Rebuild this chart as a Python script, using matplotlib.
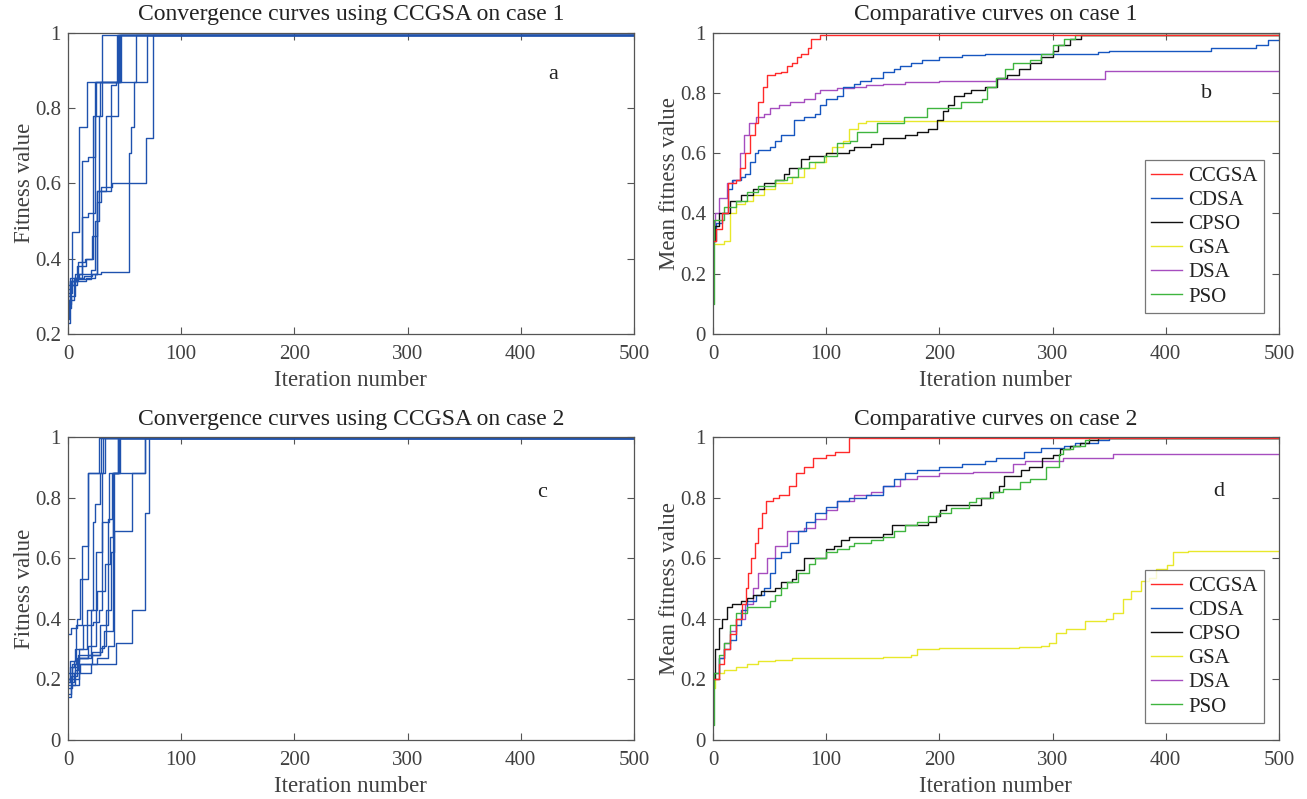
import numpy as np
import matplotlib
matplotlib.use("Agg")
from matplotlib import pyplot as plt

plt.rcParams['font.family'] = ['Liberation Serif', 'DejaVu Serif']
plt.rcParams['font.size'] = 15

N_ITER = 500

# case 1: individual CCGSA runs (iteration where value changes, new value)
a_runs = [
    ([0, 2, 4, 10, 17, 30], [0.29, 0.34, 0.47, 0.75, 0.87, 0.993]),
    ([0, 2, 6, 12, 18, 22, 25, 43], [0.30, 0.34, 0.36, 0.51, 0.52, 0.78, 0.87, 0.993]),
    ([0, 2, 5, 12, 18, 24, 28, 45], [0.23, 0.33, 0.35, 0.66, 0.67, 0.78, 0.87, 0.993]),
    ([0, 4, 8, 16, 21, 26, 38, 42, 47], [0.31, 0.34, 0.38, 0.40, 0.46, 0.58, 0.86, 0.87, 0.993]),
    ([0, 3, 7, 14, 21, 29, 54, 56, 58, 60], [0.32, 0.34, 0.35, 0.355, 0.36, 0.365, 0.68, 0.75, 0.87, 0.993]),
    ([0, 3, 8, 20, 26, 29, 39, 69, 75], [0.28, 0.33, 0.345, 0.36, 0.55, 0.59, 0.60, 0.72, 0.993]),
    ([0, 2, 10, 20, 24, 27, 30, 70], [0.33, 0.35, 0.36, 0.37, 0.50, 0.78, 0.87, 0.993]),
    ([0, 3, 6, 16, 24, 26, 34, 44], [0.27, 0.30, 0.34, 0.35, 0.36, 0.58, 0.78, 0.993]),
    ([0, 1, 5, 9, 15, 22, 24, 46], [0.24, 0.29, 0.34, 0.39, 0.40, 0.52, 0.87, 0.993]),
]

# case 2: individual CCGSA runs
c_runs = [
    ([0, 3, 8, 11, 18, 27], [0.35, 0.37, 0.40, 0.53, 0.88, 0.998]),
    ([0, 4, 7, 12, 18, 29], [0.20, 0.25, 0.38, 0.64, 0.88, 0.998]),
    ([0, 2, 6, 10, 17, 22, 24, 28, 31], [0.19, 0.22, 0.25, 0.30, 0.43, 0.72, 0.78, 0.88, 0.998]),
    ([0, 3, 6, 9, 18, 25, 30, 33], [0.15, 0.18, 0.23, 0.27, 0.31, 0.62, 0.88, 0.998]),
    ([0, 2, 5, 10, 18, 28, 35, 39, 45], [0.20, 0.24, 0.26, 0.27, 0.28, 0.38, 0.73, 0.88, 0.998]),
    ([0, 3, 8, 20, 26, 33, 37, 40, 44], [0.18, 0.21, 0.27, 0.43, 0.49, 0.58, 0.67, 0.88, 0.998]),
    ([0, 4, 10, 21, 30, 34, 38, 41, 46], [0.17, 0.20, 0.25, 0.29, 0.31, 0.43, 0.62, 0.88, 0.998]),
    ([0, 5, 11, 26, 35, 41, 57, 68], [0.19, 0.22, 0.25, 0.27, 0.31, 0.69, 0.88, 0.998]),
    ([0, 3, 10, 20, 42, 57, 68, 72], [0.14, 0.18, 0.22, 0.25, 0.32, 0.43, 0.75, 0.998]),
    ([0, 4, 9, 28, 32, 40, 68], [0.20, 0.24, 0.28, 0.305, 0.36, 0.88, 0.998]),
    ([0, 2, 6, 13, 22, 27, 30, 36, 44], [0.22, 0.26, 0.30, 0.38, 0.39, 0.43, 0.72, 0.88, 0.998]),
]

algos = ['CCGSA', 'CDSA', 'CPSO', 'GSA', 'DSA', 'PSO']
algo_colors = ['#FF2A2A', '#1656C0', '#111111', '#E8E82A', '#A64DBF', '#3FB53F']

# case 1 mean curves
b_x = {
    'CCGSA': [0, 3, 8, 13, 20, 24, 28, 33, 37, 40, 44, 48, 55, 60, 65, 70, 74, 78, 84, 87, 95],
    'CDSA': [0, 3, 8, 13, 17, 25, 28, 33, 37, 40, 50, 55, 60, 72, 80, 90, 95, 100, 110, 115, 125, 130,
             140, 150, 160, 165, 175, 185, 200, 220, 240, 340, 350, 440, 480, 490],
    'CPSO': [0, 2, 5, 15, 25, 35, 45, 55, 63, 67, 78, 85, 100, 120, 125, 140, 150, 170, 180, 190, 198,
             203, 208, 213, 222, 228, 240, 251, 260, 270, 280, 290, 300, 305, 315, 325],
    'GSA': [0, 1, 10, 15, 20, 28, 35, 45, 55, 70, 80, 90, 100, 105, 115, 120, 128, 135],
    'DSA': [0, 2, 5, 12, 18, 24, 27, 32, 38, 45, 50, 58, 68, 80, 90, 95, 110, 125, 135, 150, 170, 200,
            250, 346],
    'PSO': [0, 1, 10, 20, 30, 40, 55, 65, 75, 85, 98, 110, 121, 127, 145, 169, 189, 219, 238, 242, 250,
            258, 265, 280, 290, 300, 310, 320],
}
b_y = {
    'CCGSA': [0.31, 0.35, 0.40, 0.50, 0.51, 0.55, 0.60, 0.66, 0.70, 0.77, 0.82, 0.86, 0.865, 0.87, 0.89,
              0.90, 0.92, 0.93, 0.95, 0.98, 0.993],
    'CDSA': [0.31, 0.37, 0.40, 0.48, 0.51, 0.52, 0.53, 0.57, 0.60, 0.61, 0.62, 0.64, 0.66, 0.71, 0.72,
             0.73, 0.76, 0.78, 0.79, 0.82, 0.83, 0.84, 0.85, 0.87, 0.88, 0.89, 0.90, 0.91, 0.92, 0.925,
             0.93, 0.935, 0.94, 0.95, 0.96, 0.975],
    'CPSO': [0.31, 0.36, 0.40, 0.44, 0.46, 0.48, 0.50, 0.51, 0.53, 0.55, 0.58, 0.59, 0.60, 0.61, 0.62,
             0.63, 0.65, 0.66, 0.67, 0.68, 0.71, 0.74, 0.76, 0.79, 0.80, 0.81, 0.82, 0.85, 0.86, 0.88,
             0.90, 0.92, 0.94, 0.96, 0.98, 0.993],
    'GSA': [0.30, 0.30, 0.31, 0.40, 0.43, 0.44, 0.46, 0.48, 0.50, 0.52, 0.55, 0.57, 0.60, 0.62, 0.64,
            0.68, 0.70, 0.707],
    'DSA': [0.33, 0.40, 0.45, 0.50, 0.51, 0.60, 0.66, 0.70, 0.72, 0.73, 0.75, 0.76, 0.77, 0.78, 0.80,
            0.81, 0.815, 0.82, 0.825, 0.83, 0.835, 0.84, 0.847, 0.873],
    'PSO': [0.10, 0.38, 0.42, 0.44, 0.47, 0.49, 0.51, 0.52, 0.55, 0.57, 0.59, 0.635, 0.64, 0.67, 0.70,
            0.72, 0.75, 0.77, 0.78, 0.82, 0.85, 0.88, 0.90, 0.91, 0.93, 0.96, 0.98, 0.993],
}

# case 2 mean curves
d_x = {
    'CCGSA': [0, 5, 10, 15, 20, 26, 29, 31, 34, 37, 40, 43, 47, 53, 58, 67, 73, 80, 88, 100, 108, 120],
    'CDSA': [0, 5, 10, 15, 20, 25, 30, 38, 45, 50, 55, 60, 68, 75, 82, 90, 100, 110, 120, 135, 150, 160,
             170, 180, 200, 220, 240, 250, 275, 290, 310, 320, 340, 350],
    'CPSO': [0, 2, 5, 8, 12, 17, 25, 30, 35, 42, 55, 60, 70, 73, 80, 100, 107, 113, 120, 150, 158, 190,
             197, 201, 206, 237, 245, 253, 257, 272, 279, 291, 300, 307, 315, 324, 332, 340],
    'GSA': [0, 2, 5, 10, 20, 30, 40, 55, 70, 100, 150, 170, 175, 180, 200, 230, 270, 290, 297, 303, 312,
            329, 347, 353, 362, 369, 378, 385, 391, 401, 406, 420],
    'DSA': [0, 5, 10, 15, 20, 28, 35, 40, 48, 55, 65, 80, 90, 100, 110, 125, 140, 150, 165, 180, 200,
            230, 265, 276, 309, 353],
    'PSO': [0, 1, 5, 10, 15, 20, 30, 50, 55, 60, 65, 75, 85, 90, 100, 110, 120, 125, 140, 150, 160, 170,
            180, 190, 200, 210, 226, 232, 247, 256, 271, 280, 294, 306, 309, 318, 329, 332],
}
d_y = {
    'CCGSA': [0.20, 0.25, 0.30, 0.35, 0.40, 0.45, 0.50, 0.55, 0.60, 0.65, 0.70, 0.75, 0.79, 0.80, 0.81,
              0.84, 0.88, 0.90, 0.93, 0.94, 0.95, 0.998],
    'CDSA': [0.22, 0.27, 0.30, 0.33, 0.38, 0.43, 0.46, 0.48, 0.50, 0.55, 0.60, 0.62, 0.65, 0.69, 0.72,
             0.75, 0.77, 0.79, 0.80, 0.81, 0.84, 0.86, 0.88, 0.89, 0.90, 0.91, 0.92, 0.93, 0.95, 0.965,
             0.97, 0.98, 0.99, 0.998],
    'CPSO': [0.20, 0.30, 0.37, 0.40, 0.44, 0.45, 0.46, 0.47, 0.48, 0.49, 0.50, 0.52, 0.53, 0.56, 0.60,
             0.63, 0.64, 0.66, 0.67, 0.68, 0.71, 0.72, 0.74, 0.76, 0.775, 0.80, 0.82, 0.84, 0.87, 0.89,
             0.90, 0.93, 0.94, 0.96, 0.97, 0.98, 0.99, 0.998],
    'GSA': [0.17, 0.20, 0.22, 0.23, 0.24, 0.25, 0.26, 0.265, 0.27, 0.272, 0.273, 0.275, 0.28, 0.30,
            0.302, 0.305, 0.308, 0.31, 0.32, 0.354, 0.365, 0.392, 0.398, 0.42, 0.465, 0.49, 0.525, 0.536,
            0.565, 0.577, 0.62, 0.625],
    'DSA': [0.20, 0.27, 0.32, 0.36, 0.40, 0.45, 0.50, 0.55, 0.60, 0.64, 0.69, 0.70, 0.73, 0.76, 0.79,
            0.81, 0.82, 0.84, 0.86, 0.87, 0.88, 0.885, 0.91, 0.92, 0.93, 0.943],
    'PSO': [0.05, 0.22, 0.28, 0.32, 0.38, 0.42, 0.44, 0.46, 0.48, 0.50, 0.52, 0.55, 0.58, 0.60, 0.62,
            0.63, 0.64, 0.65, 0.66, 0.67, 0.69, 0.71, 0.72, 0.74, 0.75, 0.765, 0.785, 0.80, 0.82, 0.83,
            0.85, 0.86, 0.90, 0.945, 0.96, 0.97, 0.99, 0.998],
}

TXT = '#404040'
RUN_COLOR = '#1F52AE'


def stepline(ax, x, y, color):
    x = np.append(x, N_ITER)
    y = np.append(y, y[-1])
    return ax.step(x, y, where='post', color=color, lw=1.0)


def style(ax, ylo, title, ylabel, letter, lx, ly):
    ax.set_xlim(0, N_ITER)
    ax.set_ylim(ylo, 1)
    ax.set_xticks([0, 100, 200, 300, 400, 500])
    ax.set_title(title, fontsize=17, color='#222222', pad=9)
    ax.set_xlabel('Iteration number', fontsize=16.5, color=TXT, labelpad=4)
    ax.set_ylabel(ylabel, fontsize=16.5, color=TXT, labelpad=0)
    ax.tick_params(direction='in', top=True, right=True, length=5, width=0.8,
                   colors='#555555', labelcolor=TXT, labelsize=15)
    ax.tick_params(axis='x', pad=8)
    ax.tick_params(axis='y', pad=5)
    ax.yaxis.set_major_formatter(plt.FuncFormatter(lambda v, p: ('%g' % round(v, 2))))
    for s in ax.spines.values():
        s.set_color('#555555')
        s.set_linewidth(0.9)
    ax.text(lx, ly, letter, transform=ax.transAxes, fontsize=16, color='#222222',
            ha='center', va='center')


fig = plt.figure(figsize=(13.07, 7.99), dpi=100)
W = 0.433
ax_a = fig.add_axes([0.052, 0.582, W, 0.377])
ax_b = fig.add_axes([0.5455, 0.582, W, 0.377])
ax_c = fig.add_axes([0.052, 0.074, W, 0.379])
ax_d = fig.add_axes([0.5455, 0.074, W, 0.379])

for x, y in a_runs:
    stepline(ax_a, x, y, RUN_COLOR)
style(ax_a, 0.2, 'Convergence curves using CCGSA on case 1', 'Fitness value', 'a', 0.857, 0.86)
ax_a.set_yticks([0.2, 0.4, 0.6, 0.8, 1.0])

for x, y in c_runs:
    stepline(ax_c, x, y, RUN_COLOR)
style(ax_c, 0.0, 'Convergence curves using CCGSA on case 2', 'Fitness value', 'c', 0.838, 0.818)
ax_c.set_yticks([0, 0.2, 0.4, 0.6, 0.8, 1.0])

for ax, xs, ys, title, letter, lx, ly, lb in [
        (ax_b, b_x, b_y, 'Comparative curves on case 1', 'b', 0.873, 0.80, 0.07),
        (ax_d, d_x, d_y, 'Comparative curves on case 2', 'd', 0.893, 0.82, 0.056)]:
    order = ['GSA', 'DSA', 'CDSA', 'CPSO', 'PSO', 'CCGSA']
    handles = {}
    for name in order:
        c = algo_colors[algos.index(name)]
        handles[name] = stepline(ax, xs[name], ys[name], c)[0]
    style(ax, 0.0, title, 'Mean fitness value', letter, lx, ly)
    ax.set_yticks([0, 0.2, 0.4, 0.6, 0.8, 1.0])
    leg = ax.legend([handles[n] for n in algos], algos, loc='lower right',
                    bbox_to_anchor=(0.974, lb), fontsize=15, frameon=True, fancybox=False,
                    handlelength=1.5, handletextpad=0.3, borderpad=0.3, labelspacing=0.22,
                    borderaxespad=0)
    leg.get_frame().set_edgecolor('#555555')
    leg.get_frame().set_linewidth(0.9)
    for t in leg.get_texts():
        t.set_color('#222222')

fig.savefig('out.png', dpi=100)
